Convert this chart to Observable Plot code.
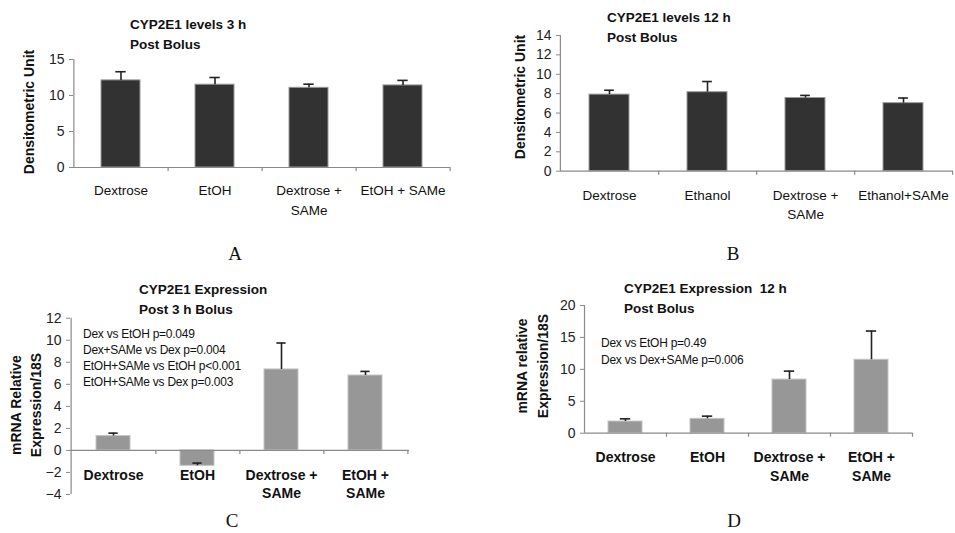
<!DOCTYPE html>
<html>
<head>
<meta charset="utf-8">
<script src="https://cdn.jsdelivr.net/npm/d3@7"></script>
<script src="https://cdn.jsdelivr.net/npm/@observablehq/plot@0.6"></script>
<style>
  body { margin: 0; background: white; }
  #wrap { position: relative; width: 955px; height: 533px; overflow: hidden; font-family: "Liberation Sans", Arial, sans-serif; }
  #wrap svg { position: absolute; left: 0; top: 0; }
  .lbl { position: absolute; white-space: pre; color: #111; }
</style>
</head>
<body>
<div id="wrap"></div>
<script>
// ---- Data ----
const catsA = ["Dextrose", "EtOH", "Dextrose + SAMe", "EtOH + SAMe"];
const labelsA = ["Dextrose", "EtOH", "Dextrose +\nSAMe", "EtOH + SAMe"];
const valuesA = [12.1, 11.5, 11.07, 11.4];
const errorsA = [1.2, 1.0, 0.5, 0.7];
const ticksA = [0, 5, 10, 15];

const catsB = ["Dextrose", "Ethanol", "Dextrose + SAMe", "Ethanol+SAMe"];
const labelsB = ["Dextrose", "Ethanol", "Dextrose +\nSAMe", "Ethanol+SAMe"];
const valuesB = [7.9, 8.15, 7.55, 7.02];
const errorsB = [0.45, 1.1, 0.27, 0.53];
const ticksB = [0, 2, 4, 6, 8, 10, 12, 14];

const catsC = ["Dextrose", "EtOH", "Dextrose + SAMe", "EtOH + SAMe"];
const labelsC = ["Dextrose", "EtOH", "Dextrose +\nSAMe", "EtOH +\nSAMe"];
const valuesC = [1.3, -1.4, 7.35, 6.8];
const errorsC = [0.27, 0.25, 2.4, 0.37];
const ticksC = [-4, -2, 0, 2, 4, 6, 8, 10, 12];
const notesC = ["Dex vs EtOH p=0.049", "Dex+SAMe vs Dex p=0.004", "EtOH+SAMe vs EtOH p<0.001", "EtOH+SAMe vs Dex p=0.003"];

const catsD = ["Dextrose", "EtOH", "Dextrose + SAMe", "EtOH + SAMe"];
const labelsD = ["Dextrose", "EtOH", "Dextrose +\nSAMe", "EtOH +\nSAMe"];
const valuesD = [1.83, 2.25, 8.4, 11.5];
const errorsD = [0.42, 0.42, 1.32, 4.5];
const ticksD = [0, 5, 10, 15, 20];
const notesD = ["Dex vs EtOH p=0.49", "Dex vs Dex+SAMe p=0.006"];

// ---- Panel builder ----
const W = 955, H = 533;
function panel(cfg) {
  const {cats, labels, values, errors, ticks, frame, fill, stroke, bold, labelDy, lineHeight, labelSize} = cfg;
  const [L, T, R, B] = frame;
  const step = (R - L) / cats.length;
  const pad = 0.59;
  const bw = step * (1 - pad);
  const cap = 10;
  const rows = cats.map((c, i) => ({c, v: values[i], top: values[i] + errors[i], label: labels[i]}));
  const domain = [ticks[0], ticks[ticks.length - 1]];
  return Plot.plot({
    width: W, height: H,
    marginLeft: L, marginRight: W - R, marginTop: T, marginBottom: H - B,
    style: {background: "transparent", overflow: "visible", fontFamily: "'Liberation Sans', Arial, sans-serif"},
    x: {domain: cats, paddingInner: pad, paddingOuter: pad / 2, axis: null},
    y: {domain, axis: null},
    marks: [
      Plot.barY(rows, {x: "c", y: "v", fill, stroke, strokeWidth: 1}),
      Plot.ruleX(rows, {x: "c", y1: "v", y2: "top", stroke: "#222", strokeWidth: 1.6}),
      Plot.tickY(rows, {x: "c", y: "top", stroke: "#222", strokeWidth: 1.6, insetLeft: (bw - cap) / 2, insetRight: (bw - cap) / 2}),
      Plot.ruleY([0], {stroke: "#8a8a8a", strokeWidth: 1.2}),
      Plot.ruleX([cats[0]], {dx: -step / 2, y1: domain[0], y2: domain[1], stroke: "#8a8a8a", strokeWidth: 1.2}),
      Plot.ruleX(cats, {dx: step / 2, y1: 0, y2: 0, insetBottom: -4, stroke: "#8a8a8a", strokeWidth: 1.2}),
      Plot.axisY({ticks, tickSize: 4, tickPadding: 5, fontSize: 14, stroke: "#8a8a8a", fill: "#222"}),
      Plot.text(rows, {x: "c", y: 0, text: "label", dy: labelDy, lineAnchor: "top", lineHeight, fontSize: labelSize, fontWeight: bold ? "bold" : "normal", fill: "#111"})
    ]
  });
}

const wrap = document.getElementById("wrap");

wrap.append(panel({cats: catsA, labels: labelsA, values: valuesA, errors: errorsA, ticks: ticksA,
  frame: [73, 59, 450, 167], fill: "#323232", stroke: "#9a9a9a", bold: false, labelDy: 14, lineHeight: 1.45, labelSize: 13.5}));
wrap.append(panel({cats: catsB, labels: labelsB, values: valuesB, errors: errorsB, ticks: ticksB,
  frame: [560, 35, 953, 170.7], fill: "#323232", stroke: "#9a9a9a", bold: false, labelDy: 14.5, lineHeight: 1.45, labelSize: 13.5}));
wrap.append(panel({cats: catsC, labels: labelsC, values: valuesC, errors: errorsC, ticks: ticksC,
  frame: [70, 317.7, 409, 494], fill: "#979797", stroke: "#c4c4c4", bold: true, labelDy: 16.5, lineHeight: 1.3, labelSize: 14}));
wrap.append(panel({cats: catsD, labels: labelsD, values: valuesD, errors: errorsD, ticks: ticksD,
  frame: [584, 305, 912, 432.7], fill: "#979797", stroke: "#c4c4c4", bold: true, labelDy: 15, lineHeight: 1.36, labelSize: 14}));

// ---- Text overlays ----
function label(text, x, cy, css = {}, lh = 20) {
  const d = document.createElement("div");
  d.className = "lbl";
  d.textContent = text;
  d.style.left = x + "px";
  d.style.top = (cy - lh / 2) + "px";
  d.style.lineHeight = lh + "px";
  Object.assign(d.style, css);
  wrap.append(d);
  return d;
}
function vlabel(text, cx, cy, css = {}, lh = 20) {
  const d = document.createElement("div");
  d.className = "lbl";
  d.textContent = text;
  d.style.left = cx + "px";
  d.style.top = cy + "px";
  d.style.lineHeight = lh + "px";
  d.style.textAlign = "center";
  d.style.transform = "translate(-50%, -50%) rotate(-90deg)";
  Object.assign(d.style, css);
  wrap.append(d);
}
const titleCss = {fontWeight: "bold", fontSize: "13.5px"};
label("CYP2E1 levels 3 h", 130, 25, titleCss);
label("Post Bolus", 130, 45, titleCss);
label("CYP2E1 levels 12 h", 607, 18, titleCss);
label("Post Bolus", 607, 38, titleCss);
label("CYP2E1 Expression", 139, 290, titleCss);
label("Post 3 h Bolus", 139, 310, titleCss);
label("CYP2E1 Expression  12 h", 624, 289, titleCss);
label("Post Bolus", 624, 309, titleCss);

const axCss = {fontWeight: "bold", fontSize: "14px"};
vlabel("Densitometric Unit", 29, 112, axCss);
vlabel("Densitometric Unit", 520, 97, axCss);
vlabel("mRNA Relative\nExpression/18S", 26, 405, axCss, 20);
vlabel("mRNA relative\nExpression/18S", 533, 366, axCss, 21);

const noteCss = {fontSize: "12px", letterSpacing: "-0.25px"};
notesC.forEach((t, i) => label(t, 83, 334 + i * 16, noteCss, 16));
notesD.forEach((t, i) => label(t, 601, 343 + i * 16.5, noteCss, 16));

const letterCss = {fontFamily: "'Liberation Serif', 'Times New Roman', serif", fontSize: "19px", transform: "translateX(-50%)"};
label("A", 235, 254, letterCss, 14);
label("B", 733, 254, letterCss, 14);
label("C", 232, 521, letterCss, 14);
label("D", 734, 521, letterCss, 14);
</script>
</body>
</html>
